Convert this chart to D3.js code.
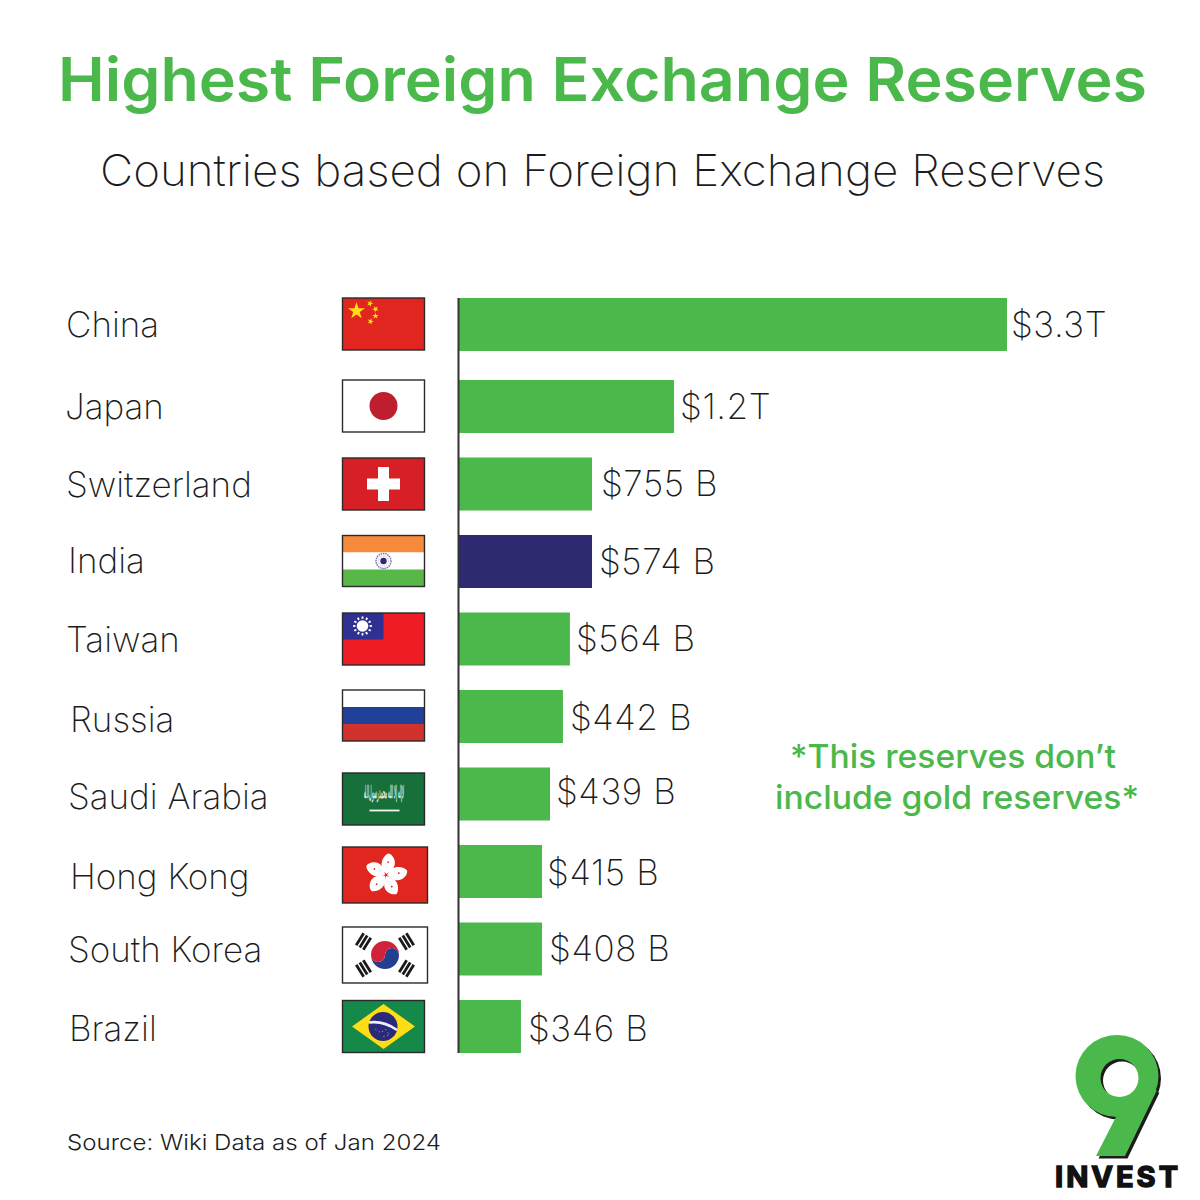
<!DOCTYPE html>
<html>
<head>
<meta charset="utf-8">
<script src="https://cdn.jsdelivr.net/npm/d3@7"></script>
<style>
  html, body { margin: 0; padding: 0; background: #fff; }
  text { font-family: Inter, "Open Sans", sans-serif; }
</style>
</head>
<body>
<svg id="chart" width="1200" height="1200"></svg>
<script>
const countries = ["China", "Japan", "Switzerland", "India", "Taiwan", "Russia", "Saudi Arabia", "Hong Kong", "South Korea", "Brazil"]
const valueLabels = ["$3.3T", "$1.2T", "$755 B", "$574 B", "$564 B", "$442 B", "$439 B", "$415 B", "$408 B", "$346 B"]
// bar lengths as they are drawn in the picture, in billions on China's scale (not proportional to the labels)
const drawnValues = [3300, 1295, 801, 801, 668, 626, 548, 500, 500, 373]
const highlighted = ["India"]

const green = "#4ab84b"
const navy = "#2e2a72"

const svg = d3.select("#chart")

// rows are not quite evenly spaced: Japan sits a little lower than the rest
const y = d3.scaleLinear().domain([0, 1, 9]).range([298, 380, 1000])
const x = d3.scaleLinear().domain([0, 3300]).range([459, 1007])
const barHeight = 53

// hand placed text in the original
const labelX = [66, 65, 66, 68, 66, 70, 68, 70, 68, 69]
const labelNudge = [0, 0, 1, -1, 1, 3, 3, 5, 1, 2]
const valueGap = [4, 6, 9, 7, 6, 7, 6, 5, 7, 7]
const valueNudge = [0, 0, 0, 0, 0, 1, -2, 1, 0, 2]

const text = (s, px, py, size, weight, fill) => svg.append("text")
  .attr("x", px).attr("y", py)
  .attr("font-size", size).attr("font-weight", weight)
  .attr("fill", fill).text(s)

text("Highest Foreign Exchange Reserves", 58, 101, 60, 600, green)
  .attr("textLength", 1089).attr("lengthAdjust", "spacingAndGlyphs")
text("Countries based on Foreign Exchange Reserves", 100, 186, 44, 200, "#1c1c1c")
  .attr("textLength", 1005).attr("lengthAdjust", "spacingAndGlyphs")

// bars
svg.append("g").selectAll("rect")
  .data(countries)
  .join("rect")
  .attr("x", x(0))
  .attr("y", (d, i) => y(i))
  .attr("width", (d, i) => x(drawnValues[i]) - x(0))
  .attr("height", barHeight)
  .attr("fill", d => highlighted.includes(d) ? navy : green)

// baseline
svg.append("line")
  .attr("x1", x(0) - 0.5).attr("x2", x(0) - 0.5)
  .attr("y1", y(0)).attr("y2", y(9) + barHeight)
  .attr("stroke", "#333").attr("stroke-width", 2)

// country names
svg.append("g").selectAll("text")
  .data(countries)
  .join("text")
  .attr("x", (d, i) => labelX[i])
  .attr("y", (d, i) => y(i) + barHeight / 2 + labelNudge[i])
  .attr("dy", "0.35em")
  .attr("font-size", 35).attr("font-weight", 200)
  .attr("fill", "#1c1c1c")
  .text(d => d)

// value labels
svg.append("g").selectAll("text")
  .data(valueLabels)
  .join("text")
  .attr("x", (d, i) => x(drawnValues[i]) + valueGap[i])
  .attr("y", (d, i) => y(i) + barHeight / 2 + valueNudge[i])
  .attr("dy", "0.35em")
  .attr("font-size", 35).attr("font-weight", 200)
  .attr("letter-spacing", 0.6)
  .attr("fill", "#1c1c1c")
  .text(d => d)

// note
text("*This reserves don\u2019t", 790, 768, 33, 500, green)
  .attr("textLength", 326).attr("lengthAdjust", "spacingAndGlyphs")
text("include gold reserves*", 775, 809, 33, 500, green)
  .attr("textLength", 364).attr("lengthAdjust", "spacingAndGlyphs")

text("Source: Wiki Data as of Jan 2024", 67, 1150, 22, 300, "#1c1c1c")
  .attr("textLength", 374).attr("lengthAdjust", "spacingAndGlyphs")

// flags, drawn in a local box of w x h
const star = (g, cx, cy, r, rot) => g.append("path")
  .attr("d", d3.symbol(d3.symbolStar, r * r * 1.6)())
  .attr("transform", `translate(${cx},${cy}) rotate(${rot})`)
  .attr("fill", "#ffde17")

const stripes = (g, w, h, cols) => {
  const band = d3.scaleBand().domain(d3.range(cols.length)).range([0, h])
  g.selectAll("rect.stripe").data(cols).join("rect")
    .attr("class", "stripe")
    .attr("x", 0).attr("y", (d, i) => band(i))
    .attr("width", w).attr("height", band.bandwidth())
    .attr("fill", d => d)
}

const flags = {
  "China": (g, w, h) => {
    g.append("rect").attr("width", w).attr("height", h).attr("fill", "#e1261f")
    star(g, 14, 13, 7.5, 0)
    star(g, 27.5, 5.5, 2.9, 20)
    star(g, 33, 11, 2.9, 45)
    star(g, 33, 18, 2.9, 0)
    star(g, 28, 23.5, 2.9, 20)
  },
  "Japan": (g, w, h) => {
    g.append("rect").attr("width", w).attr("height", h).attr("fill", "#fff")
    g.append("circle").attr("cx", w / 2).attr("cy", h / 2).attr("r", 14).attr("fill", "#be1e2d")
  },
  "Switzerland": (g, w, h) => {
    g.append("rect").attr("width", w).attr("height", h).attr("fill", "#d71f26")
    g.append("rect").attr("x", w / 2 - 16.5).attr("y", h / 2 - 5.5).attr("width", 33).attr("height", 11).attr("fill", "#fff")
    g.append("rect").attr("x", w / 2 - 5.5).attr("y", h / 2 - 17).attr("width", 11).attr("height", 34).attr("fill", "#fff")
  },
  "India": (g, w, h) => {
    stripes(g, w, h, ["#f68b3c", "#fff", "#58b847"])
    g.append("circle").attr("cx", w / 2).attr("cy", h / 2).attr("r", 7.5)
      .attr("fill", "none").attr("stroke", "#6c6cae").attr("stroke-width", 1.4).attr("stroke-dasharray", "1.5 .8")
    g.append("circle").attr("cx", w / 2).attr("cy", h / 2).attr("r", 5)
      .attr("fill", "none").attr("stroke", "#a9a9d2").attr("stroke-width", 1).attr("stroke-dasharray", "1 1")
    g.append("circle").attr("cx", w / 2).attr("cy", h / 2).attr("r", 3.2).attr("fill", "#2e2a72")
  },
  "Taiwan": (g, w, h) => {
    g.append("rect").attr("width", w).attr("height", h).attr("fill", "#ee1c25")
    g.append("rect").attr("width", 41).attr("height", 26.5).attr("fill", "#2e3192")
    g.selectAll("line").data(d3.range(12)).join("line")
      .attr("x1", 20).attr("y1", 13).attr("x2", 20).attr("y2", 3.5)
      .attr("stroke", "#fff").attr("stroke-width", 1.8)
      .attr("transform", d => `rotate(${d * 30} 20 13)`)
    g.append("circle").attr("cx", 20).attr("cy", 13).attr("r", 7.2).attr("fill", "#2e3192")
    g.append("circle").attr("cx", 20).attr("cy", 13).attr("r", 5.8).attr("fill", "#fff")
  },
  "Russia": (g, w, h) => stripes(g, w, h, ["#fff", "#21409a", "#d2322d"]),
  "Saudi Arabia": (g, w, h) => {
    g.append("rect").attr("width", w).attr("height", h).attr("fill", "#176f3a")
    g.append("text").attr("x", 21).attr("y", 25)
      .attr("font-family", "'DejaVu Sans'").attr("font-size", 17).attr("font-weight", 700)
      .attr("fill", "#e4f1e8").attr("textLength", 41).attr("lengthAdjust", "spacingAndGlyphs")
      .text("\u0644\u0627 \u0625\u0644\u0647 \u0625\u0644\u0627 \u0627\u0644\u0644\u0647 \u0645\u062d\u0645\u062f \u0631\u0633\u0648\u0644 \u0627\u0644\u0644\u0647")
    g.append("line").attr("x1", 27).attr("x2", 57).attr("y1", 37.5).attr("y2", 37.5)
      .attr("stroke", "#eef6ef").attr("stroke-width", 1.8)
  },
  "Hong Kong": (g, w, h) => {
    g.append("rect").attr("width", w).attr("height", h).attr("fill", "#e1261f")
    const cx = w / 2 + 1, cy = h / 2
    // pinwheel of five petals
    g.selectAll("path.petal").data(d3.range(5)).join("path")
      .attr("class", "petal")
      .attr("d", "M0,-1 C-8,-5 -8,-14 -3,-19 C1,-20 7,-14 5,-8 C4,-5 2,-3 0,-1Z")
      .attr("transform", d => `translate(${cx},${cy}) rotate(${d * 72 + 14}) scale(1.12)`)
      .attr("fill", "#fff")
    g.selectAll("circle.mark").data(d3.range(5)).join("circle")
      .attr("class", "mark")
      .attr("r", 0.9)
      .attr("transform", d => `translate(${cx},${cy}) rotate(${d * 72 + 14}) translate(-1,-13)`)
      .attr("fill", "#e1261f")
  },
  "South Korea": (g, w, h) => {
    g.append("rect").attr("width", w).attr("height", h).attr("fill", "#fff")
    const cx = w / 2, cy = h / 2, r = 14
    g.append("path").attr("fill", "#243f8f")
      .attr("d", `M${cx - r},${cy} A${r},${r} 0 0 0 ${cx + r},${cy} A${r / 2},${r / 2} 0 0 0 ${cx},${cy} A${r / 2},${r / 2} 0 0 1 ${cx - r},${cy}Z`)
    g.append("path").attr("fill", "#d2213a")
      .attr("d", `M${cx - r},${cy} A${r},${r} 0 0 1 ${cx + r},${cy} A${r / 2},${r / 2} 0 0 0 ${cx},${cy} A${r / 2},${r / 2} 0 0 1 ${cx - r},${cy}Z`)
    ;[[-1, -1], [1, -1], [-1, 1], [1, 1]].forEach(([sx, sy]) => {
      const a = Math.atan2(sy * 13.5, sx * 21.5) * 180 / Math.PI
      const t = g.append("g").attr("transform", `translate(${cx + sx * 21.5},${cy + sy * 13.5}) rotate(${a + 90})`)
      t.selectAll("rect").data([-4.2, 0, 4.2]).join("rect")
        .attr("x", -7).attr("y", d => d - 1.4)
        .attr("width", 14).attr("height", 2.8).attr("fill", "#1a1a1a")
    })
  },
  "Brazil": (g, w, h) => {
    g.append("rect").attr("width", w).attr("height", h).attr("fill", "#15894a")
    g.append("path").attr("d", `M${w / 2},3.5 L${w - 9.5},${h / 2} L${w / 2},${h - 3.5} L9.5,${h / 2}Z`).attr("fill", "#ffdd15")
    g.append("circle").attr("cx", w / 2 - 0.5).attr("cy", h / 2).attr("r", 14.5).attr("fill", "#2b2a7a")
    g.append("path").attr("d", `M${w / 2 - 14.5},${h / 2 - 4} Q${w / 2},${h / 2 - 6} ${w / 2 + 13.5},${h / 2 + 3.5}`)
      .attr("fill", "none").attr("stroke", "#eef").attr("stroke-width", 2.6)
    g.append("path").attr("d", `M${w / 2 - 8},${h / 2 + 3} L${w / 2 - 3},${h / 2 + 6} L${w / 2 + 2},${h / 2 + 3} L${w / 2 + 6},${h / 2 + 8} L${w / 2},${h / 2 + 10}`)
      .attr("fill", "none").attr("stroke", "#dfe4ff").attr("stroke-width", 0.9).attr("stroke-dasharray", "0.9 3")
  }
}

// box per flag, a few run out of line with their bars in the original
const flagBox = {
  "China": {dy: 0, w: 82, h: 52},
  "Japan": {dy: 0, w: 82, h: 52},
  "Switzerland": {dy: 0.5, w: 82, h: 52},
  "India": {dy: 0.5, w: 82, h: 51},
  "Taiwan": {dy: 0.5, w: 82, h: 52},
  "Russia": {dy: 0, w: 82, h: 51},
  "Saudi Arabia": {dy: 5.5, w: 82, h: 52},
  "Hong Kong": {dy: 2, w: 85, h: 56},
  "South Korea": {dy: 4.5, w: 85, h: 56},
  "Brazil": {dy: 0.5, w: 82, h: 52}
}

countries.forEach((name, i) => {
  const box = flagBox[name]
  const g = svg.append("g").attr("transform", `translate(342.5,${y(i) + box.dy})`)
  flags[name](g, box.w, box.h)
  g.append("rect").attr("width", box.w).attr("height", box.h)
    .attr("fill", "none").attr("stroke", "#2a2a2a").attr("stroke-width", 1.4)
})

// logo
const nine = "M1075.5,1076 A41.5,41 0 1 1 1158.5,1076 A41.5,41 0 1 1 1075.5,1076Z " +
  "M1100.5,1078 A19,19 0 1 0 1138.5,1078 A19,19 0 1 0 1100.5,1078Z " +
  "M1096,1156 L1118,1113 L1135,1097 L1157,1090 L1125,1156Z"
svg.append("path").attr("d", nine).attr("fill", "#1c1c1c").attr("transform", "translate(2.5,2.5)")
svg.append("path").attr("d", nine).attr("fill", green)
svg.append("text").attr("x", 1055).attr("y", 1187)
  .attr("font-family", "'Liberation Sans'").attr("font-size", 29).attr("font-weight", 700)
  .attr("fill", "#111").attr("stroke", "#111").attr("stroke-width", 1.5)
  .attr("textLength", 123).text("INVEST")
</script>
</body>
</html>
